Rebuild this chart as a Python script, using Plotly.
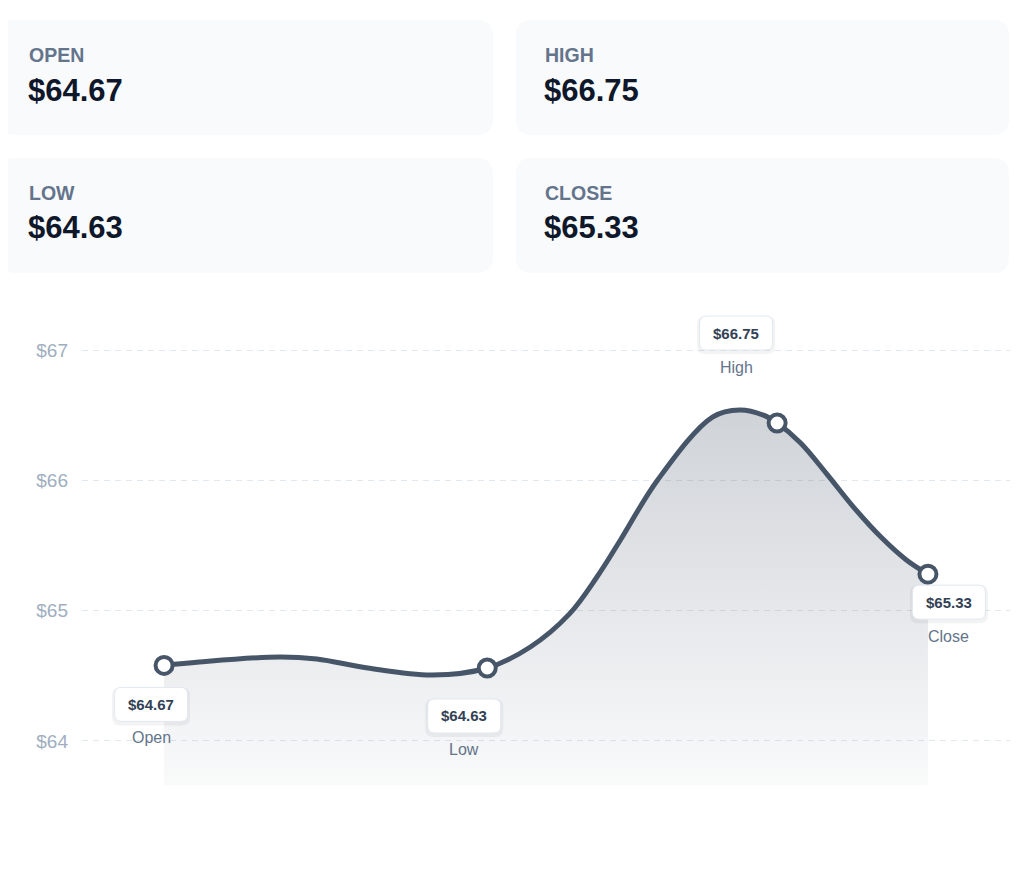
import plotly.graph_objects as go

# the page puts the figure 8px in from the top-left corner
OFF = 8
W, H = 1024 - OFF, 874 - OFF

# summary cards
card_labels = ["OPEN", "HIGH", "LOW", "CLOSE"]
card_prices = [64.67, 66.75, 64.63, 65.33]

# labelled points on the chart (minutes after the open)
point_names = ["Open", "Low", "High", "Close"]
point_prices = [64.67, 64.63, 66.75, 65.33]
point_minutes = [0, 165, 313, 390]
point_levels = [64.58, 64.56, 66.44, 65.28]

# price line as drawn
line_minutes = [0, 18, 59, 78, 104, 137, 165, 187, 207, 221, 233,
                252, 280, 294, 306, 313, 325, 338, 352, 366, 379, 390]
line_prices = [64.58, 64.606, 64.645, 64.629, 64.56, 64.506, 64.56, 64.721, 64.975, 65.258, 65.542,
               66.003, 66.486, 66.54, 66.50, 66.44, 66.287, 66.056, 65.795, 65.565, 65.389, 65.28]

y_ticks = [64, 65, 66, 67]
y_tick_text = ["$64", "$65", "$66", "$67"]

LINE = "#475569"
FONT = "Liberation Sans, Arial, sans-serif"


def fx(p):
    return (p - OFF) / W


def fy(p):
    return 1 - (p - OFF) / H


def px(x, y):
    return "%.5f,%.5f" % (fx(x), fy(y))


def card_path(x0, y0, x1, y1, r):
    return ("M" + px(x0 + r, y0) + " L" + px(x1 - r, y0) + " Q" + px(x1, y0) + " " + px(x1, y0 + r)
            + " L" + px(x1, y1 - r) + " Q" + px(x1, y1) + " " + px(x1 - r, y1)
            + " L" + px(x0 + r, y1) + " Q" + px(x0, y1) + " " + px(x0, y1 - r)
            + " L" + px(x0, y0 + r) + " Q" + px(x0, y0) + " " + px(x0 + r, y0) + " Z")


def box_path(cx, cy, w, h, r):
    # pixel offsets from the anchor point, y up
    x0, x1 = cx - w / 2, cx + w / 2
    y0, y1 = cy - h / 2, cy + h / 2
    return (f"M{x0 + r},{y0} L{x1 - r},{y0} Q{x1},{y0} {x1},{y0 + r} L{x1},{y1 - r} "
            f"Q{x1},{y1} {x1 - r},{y1} L{x0 + r},{y1} Q{x0},{y1} {x0},{y1 - r} "
            f"L{x0},{y0 + r} Q{x0},{y0} {x0 + r},{y0} Z")


fig = go.Figure()

fig.add_trace(go.Scatter(
    x=line_minutes,
    y=line_prices,
    mode="lines",
    line=dict(color=LINE, width=5, shape="spline", smoothing=1.0),
    fill="tozeroy",
    fillgradient=dict(
        type="vertical",
        start=63.66,
        stop=66.54,
        colorscale=[[0, "rgba(71,85,105,0.03)"], [1, "rgba(71,85,105,0.26)"]],
    ),
    hoverinfo="skip",
))

fig.add_trace(go.Scatter(
    x=point_minutes,
    y=point_levels,
    mode="markers",
    marker=dict(size=17, color="white", line=dict(color=LINE, width=4)),
    text=point_names,
))

shapes = []
annotations = []

# cards
card_x = [0, 516]
card_y = [20, 158]
for i, (lab, val) in enumerate(zip(card_labels, card_prices)):
    x0 = card_x[i % 2]
    y0 = card_y[i // 2]
    shapes.append(dict(type="path", xref="paper", yref="paper", path=card_path(x0, y0, x0 + 493, y0 + 115, 16),
                       fillcolor="#f8fafc", line=dict(width=0), layer="below"))
    annotations.append(dict(xref="paper", yref="paper", x=fx(x0 + 27), y=fy(y0 + 35),
                            xanchor="left", yanchor="middle", showarrow=False, text=lab,
                            font=dict(family=FONT, size=19.5, color="#64748b", weight=700)))
    annotations.append(dict(xref="paper", yref="paper", x=fx(x0 + 26), y=fy(y0 + 70),
                            xanchor="left", yanchor="middle", showarrow=False, text=f"${val:.2f}",
                            font=dict(family=FONT, size=31, color="#0f172a", weight=700)))

# point labels
box_offsets = [(-13, -39), (-23, -48), (-41, 90), (21, -28)]
name_offsets = [-72, -82, 56, -62]
for name, price, m, lv, (dx, dy), ny in zip(point_names, point_prices, point_minutes, point_levels,
                                            box_offsets, name_offsets):
    common = dict(type="path", xref="x", yref="y", xsizemode="pixel", ysizemode="pixel",
                  xanchor=m, yanchor=lv, layer="above")
    shapes.append(dict(common, path=box_path(dx, dy - 2, 78, 38, 8),
                       fillcolor="rgba(15,23,42,0.05)", line=dict(width=0)))
    shapes.append(dict(common, path=box_path(dx, dy, 73, 34, 7),
                       fillcolor="white", line=dict(color="#e2e8f0", width=1)))
    annotations.append(dict(x=m, y=lv, xref="x", yref="y", xshift=dx, yshift=dy, showarrow=False,
                            text=f"${price:.2f}", font=dict(family=FONT, size=15, color="#334155", weight=700)))
    annotations.append(dict(x=m, y=lv, xref="x", yref="y", xshift=dx, yshift=ny, showarrow=False,
                            text=name, font=dict(family=FONT, size=16, color="#64748b")))

fig.update_layout(
    width=W,
    height=H,
    margin=dict(l=0, r=0, t=0, b=0),
    paper_bgcolor="white",
    plot_bgcolor="white",
    showlegend=False,
    shapes=shapes,
    annotations=annotations,
    xaxis=dict(domain=[fx(82), fx(1010)], range=[-41.9, 431.9], visible=False),
    yaxis=dict(
        domain=[fy(785), fy(300)],
        range=[63.662, 67.384],
        tickvals=y_ticks,
        ticktext=y_tick_text,
        tickfont=dict(family=FONT, size=19, color="#a0aec0"),
        ticks="",
        ticklabelstandoff=13,
        showgrid=True,
        gridcolor="#e2e8f0",
        griddash="6px,5px",
        gridwidth=1,
        zeroline=False,
        showline=False,
    ),
)

fig.write_html("out.html")
